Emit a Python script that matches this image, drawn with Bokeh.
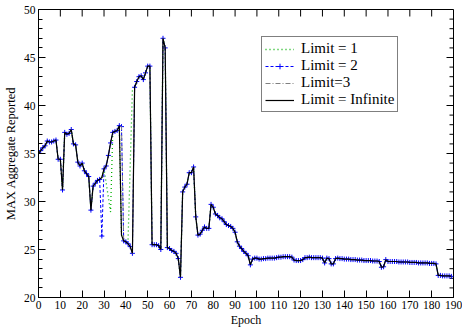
import math
from bokeh.plotting import figure
from bokeh.models import LinearAxis, SingleIntervalTicker, Range1d, Legend, LegendItem
from bokeh.embed import file_html
from bokeh.resources import INLINE

# ---------------- data ----------------
epochs = list(range(190))

# Limit = Infinite (black solid) : values for epochs 0..189
limit_inf = [
    35.0, 35.3, 35.6, 35.8, 36.3, 36.2, 36.2, 36.3, 36.4, 34.4,
    34.4, 31.2, 37.2, 37.0, 37.1, 37.5, 36.0, 35.9, 34.1, 33.7,
    34.0, 33.2, 32.9, 32.6, 29.1, 31.6, 31.9, 32.2, 32.3, 32.5,
    33.4, 33.7, 34.8, 36.1, 37.2, 37.3, 37.4, 37.9, 26.5, 25.9,
    25.8, 25.6, 25.3, 24.6, 41.9, 42.5, 43.0, 43.1, 42.7, 43.4,
    44.1, 44.1, 25.5, 25.5, 25.5, 25.4, 25.0, 47.0, 46.0, 25.2,
    25.1, 24.9, 24.8, 24.6, 24.05, 22.1, 31.0, 31.5, 31.8, 33.0,
    33.0, 33.6, 28.4, 26.5, 26.6, 27.0, 27.35, 27.2, 27.2, 29.7,
    29.4, 28.7, 28.55, 28.3, 28.2, 27.9, 27.6, 27.5, 27.4, 27.2,
    26.8, 25.8, 25.35, 25.1, 24.8, 24.6, 24.35, 23.4, 24.0, 24.1,
    24.1, 24.0, 24.0, 24.05, 24.05, 24.1, 24.1, 24.1, 24.1, 24.15,
    24.2, 24.2, 24.25, 24.25, 24.25, 24.25, 24.2, 23.9, 23.85, 23.85,
    23.85, 23.95, 24.15, 24.15, 24.2, 24.15, 24.15, 24.15, 24.15, 24.15,
    24.1, 23.6, 24.1, 24.05, 23.5, 23.5, 24.05, 24.1, 24.05, 24.05,
    24.0, 24.0, 24.0, 23.95, 23.95, 23.95, 23.9, 23.9, 23.9, 23.85,
    23.85, 23.85, 23.85, 23.8, 23.8, 23.8, 23.75, 23.15, 23.2, 23.95,
    23.75, 23.75, 23.75, 23.75, 23.75, 23.7, 23.7, 23.7, 23.7, 23.7,
    23.65, 23.65, 23.65, 23.65, 23.6, 23.6, 23.6, 23.6, 23.6, 23.55,
    23.55, 23.55, 23.5, 22.3, 22.3, 22.25, 22.25, 22.25, 22.25, 22.2,
]

# Where the other limits differ from "Infinite" (epoch -> value)
limit_1_diff = {33: 28.9, 41: 26.0, 43: 41.7}
limit_1_missing = [31, 32, 42]
limit_2_diff = {29: 26.4, 38: 37.8}
limit_3_diff = {38: 37.8}

labels = ["Limit = 1", "Limit = 2", "Limit=3", "Limit = Infinite"]
colors = ["#00b000", "#0000ff", "#808080", "#000000"]

x_ticks = list(range(0, 191, 10))
y_major = list(range(20, 51, 5))
y_minor = [v for v in range(20, 51) if v % 5]


def series(diff, missing=()):
    xs, ys = [], []
    for e, v in zip(epochs, limit_inf):
        if e in missing:
            continue
        xs.append(e)
        ys.append(diff.get(e, v))
    return xs, ys


x1, y1 = series(limit_1_diff, limit_1_missing)
x2, y2 = series(limit_2_diff)
x3, y3 = series(limit_3_diff)

# ---------------- figure ----------------
SERIF = "Liberation Serif"
p = figure(width=462, height=329, x_range=Range1d(0, 190), y_range=Range1d(20, 50),
           x_axis_type=None, y_axis_type=None,
           output_backend="svg", toolbar_location=None,
           min_border_left=38, min_border_right=9, min_border_top=9, min_border_bottom=30)
p.grid.visible = False
p.outline_line_color = "black"
p.outline_line_width = 1
p.background_fill_color = "white"
p.border_fill_color = "white"


def style(ax, minor=True):
    ax.axis_line_color = "black"
    ax.axis_line_width = 1
    ax.major_tick_in = 7
    ax.major_tick_out = 0
    ax.major_tick_line_color = "black"
    ax.minor_tick_in = 4
    ax.minor_tick_out = 0
    ax.minor_tick_line_color = "black" if minor else None
    ax.major_label_text_font = SERIF
    ax.axis_label_text_font = SERIF
    ax.axis_label_text_font_style = "normal"
    ax.axis_label_text_font_size = "12.5px"
    ax.axis_label_text_color = "black"
    ax.major_label_text_color = "black"
    ax.major_label_text_font_size = "11.5px"
    ax.major_label_standoff = 3


xb = LinearAxis(ticker=SingleIntervalTicker(interval=10, num_minor_ticks=0),
                axis_label="Epoch")
style(xb, False)
xb.axis_label_text_font_size = "12px"
xb.axis_label_standoff = 1
yl = LinearAxis(ticker=SingleIntervalTicker(interval=5, num_minor_ticks=5),
                axis_label="MAX Aggregate Reported")
style(yl, True)
yl.axis_label_standoff = 3
p.add_layout(xb, "below")
p.add_layout(yl, "left")

# inward ticks on the top and right frame edges
p.ray(x=x_ticks, y=[50] * len(x_ticks), length=7, angle=-math.pi / 2,
      length_units="screen", line_color="black", line_width=1)
p.ray(x=[190] * len(y_major), y=y_major, length=7, angle=math.pi,
      length_units="screen", line_color="black", line_width=1)
p.ray(x=[190] * len(y_minor), y=y_minor, length=4, angle=math.pi,
      length_units="screen", line_color="black", line_width=1)

r1 = p.line(x1, y1, line_color=colors[0], line_dash="1 3", line_width=1.3)
r2 = p.line(x2, y2, line_color=colors[1], line_dash="3 2", line_width=1)
r2m = p.scatter(x2, y2, marker="cross", size=5, line_color=colors[1], line_width=1)
r3 = p.line(x3, y3, line_color=colors[2], line_dash="5 2 1 2", line_width=1)
r4 = p.line(epochs, limit_inf, line_color=colors[3], line_width=1.2)

legend = Legend(items=[
    LegendItem(label=labels[0], renderers=[r1]),
    LegendItem(label=labels[1], renderers=[r2, r2m]),
    LegendItem(label=labels[2], renderers=[r3]),
    LegendItem(label=labels[3], renderers=[r4]),
], location=(223, 185))
legend.border_line_color = "black"
legend.border_line_width = 1
legend.background_fill_color = "white"
legend.background_fill_alpha = 1
legend.label_text_font = SERIF
legend.label_text_font_size = "15px"
legend.label_text_color = "black"
legend.glyph_width = 29
legend.glyph_height = 14
legend.label_height = 14
legend.label_standoff = 7
legend.spacing = 0
legend.padding = 3
legend.margin = 0
p.add_layout(legend)

open("out.html", "w").write(file_html(p, INLINE))
